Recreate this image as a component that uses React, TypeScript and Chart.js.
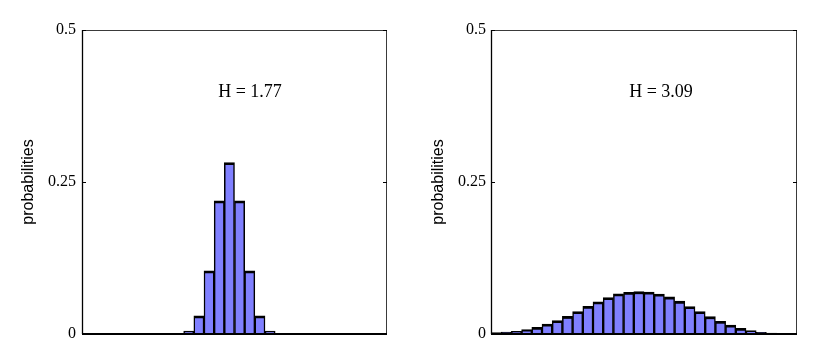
import React, { useEffect, useRef } from "react";
import { Chart, registerables } from "chart.js";

Chart.register(...registerables);

// 30 histogram bins
const binLabels = [
  "1", "2", "3", "4", "5", "6", "7", "8", "9", "10",
  "11", "12", "13", "14", "15", "16", "17", "18", "19", "20",
  "21", "22", "23", "24", "25", "26", "27", "28", "29", "30",
];

// Narrow distribution (left panel)
const narrowProbs = [
  0, 0, 0, 0, 0, 0, 0, 0, 0, 0,
  0.005, 0.030, 0.104, 0.219, 0.282, 0.219, 0.104, 0.030, 0.005, 0,
  0, 0, 0, 0, 0, 0, 0, 0, 0, 0,
];

// Broad distribution (right panel)
const broadProbs = [
  0.0025, 0.003, 0.0044, 0.0071, 0.011, 0.0164, 0.022, 0.029, 0.037, 0.0455,
  0.053, 0.060, 0.066, 0.0685, 0.0696, 0.069, 0.0658, 0.061, 0.054, 0.045,
  0.037, 0.0285, 0.021, 0.0148, 0.0093, 0.0055, 0.0027, 0.0016, 0.001, 0.0008,
];

const yTickValues = [0, 0.25, 0.5];
const yTickLabels = ["0", "0.25", "0.5"];
const entropyLabels = ["H = 1.77", "H = 3.09"];
const yAxisTitle = "probabilities";

const boxPlugin = {
  id: "box",
  afterDatasetsDraw(chart: any, _args: any, opts: any) {
    const { ctx, chartArea: a, scales } = chart;
    const y = scales.y;
    ctx.save();
    // top & right edges
    ctx.strokeStyle = "#3a3a3a";
    ctx.lineWidth = 1;
    ctx.beginPath();
    ctx.moveTo(a.left, a.top + 0.5);
    ctx.lineTo(a.right - 0.5, a.top + 0.5);
    ctx.lineTo(a.right - 0.5, a.bottom);
    ctx.stroke();
    // left edge
    ctx.strokeStyle = "#000";
    ctx.lineWidth = 1.3;
    ctx.beginPath();
    ctx.moveTo(a.left + 0.5, a.top);
    ctx.lineTo(a.left + 0.5, a.bottom);
    ctx.stroke();
    // bottom edge
    ctx.lineWidth = 2.2;
    ctx.beginPath();
    ctx.moveTo(a.left, a.bottom);
    ctx.lineTo(a.right, a.bottom);
    ctx.stroke();
    // inward ticks
    ctx.lineWidth = 1;
    ctx.strokeStyle = "#000";
    for (const v of yTickValues) {
      const py = Math.round(y.getPixelForValue(v)) + 0.5;
      ctx.beginPath();
      ctx.moveTo(a.left, py);
      ctx.lineTo(a.left + 4, py);
      ctx.moveTo(a.right, py);
      ctx.lineTo(a.right - 4, py);
      ctx.stroke();
    }
    // entropy annotation
    ctx.font = '18px "Liberation Serif", serif';
    ctx.fillStyle = "#000";
    ctx.textAlign = "center";
    ctx.textBaseline = "middle";
    ctx.fillText(opts.text, opts.x, opts.y);
    ctx.restore();
  },
};

type PanelProps = {
  values: number[];
  text: string;
  areaLeft: number;
  areaRight: number;
  titlePad: number;
  tickPad: number;
  textX: number;
};

function Panel({ values, text, areaLeft, areaRight, titlePad, tickPad, textX }: PanelProps) {
  const ref = useRef<HTMLCanvasElement | null>(null);
  useEffect(() => {
    if (!ref.current) return;
    const chart = new Chart(ref.current, {
      type: "bar",
      data: {
        labels: binLabels,
        datasets: [
          {
            data: values,
            backgroundColor: "#8080ff",
            borderColor: "#000",
            borderWidth: { top: 2.8, left: 1.5, right: 1.5, bottom: 0 } as any,
            borderSkipped: false,
            barPercentage: 1,
            categoryPercentage: 1,
          },
        ],
      },
      options: {
        responsive: false,
        animation: false,
        events: [],
        layout: { padding: { top: 30, right: 411 - areaRight, bottom: 18, left: 0 } },
        plugins: {
          legend: { display: false },
          tooltip: { enabled: false },
          box: { text, x: textX, y: 92 },
        } as any,
        scales: {
          x: { display: false, offset: true },
          y: {
            min: 0,
            max: 0.5,
            afterBuildTicks: (scale: any) => {
              scale.ticks = yTickValues.map((v) => ({ value: v }));
            },
            afterFit: (scale: any) => {
              scale.width = areaLeft;
            },
            grid: { display: false, drawTicks: false },
            border: { display: false },
            ticks: {
              padding: tickPad,
              color: "#000",
              font: { family: '"Liberation Serif", serif', size: 16 },
              callback: (v: any) => {
                const i = yTickValues.indexOf(Number(v));
                return i >= 0 ? yTickLabels[i] : "";
              },
            },
            title: {
              display: true,
              text: yAxisTitle,
              color: "#000",
              font: { family: '"Liberation Sans", Arial, sans-serif', size: 16 },
              padding: { top: titlePad, bottom: 0 },
            },
          },
        },
      },
      plugins: [boxPlugin],
    });
    return () => chart.destroy();
  }, []);
  return <canvas ref={ref} width={411} height={352} style={{ display: "block" }} />;
}

export default function App() {
  return (
    <div style={{ position: "absolute", left: 0, top: 0, width: 822, height: 352, background: "#fff" }}>
      <div style={{ position: "absolute", left: 0, top: 0 }}>
        <Panel values={narrowProbs} text={entropyLabels[0]} areaLeft={82} areaRight={387} titlePad={18.5} tickPad={6} textX={250} />
      </div>
      <div style={{ position: "absolute", left: 411, top: 0 }}>
        <Panel values={broadProbs} text={entropyLabels[1]} areaLeft={80} areaRight={386} titlePad={17.5} tickPad={5} textX={250} />
      </div>
    </div>
  );
}
